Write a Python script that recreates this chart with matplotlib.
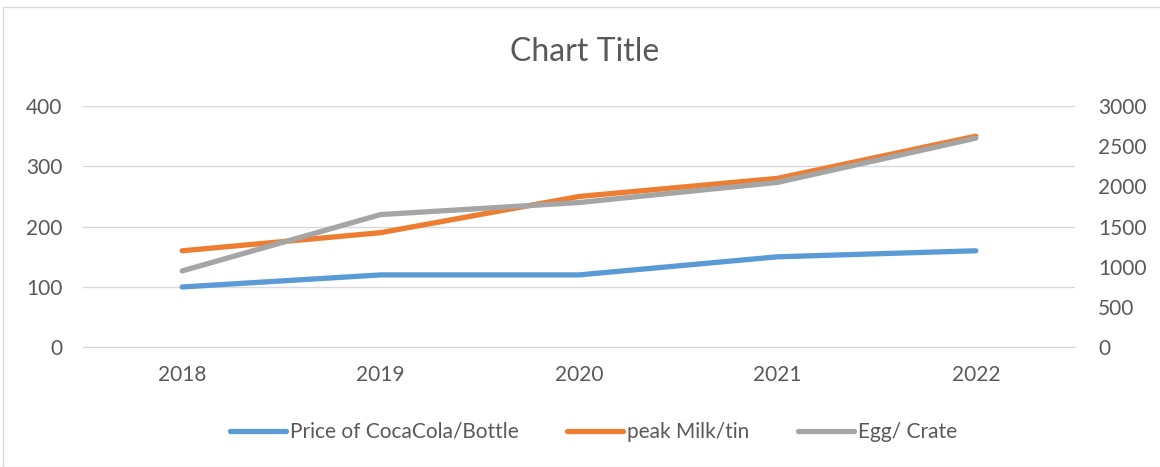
import matplotlib.pyplot as plt
from matplotlib.patches import Rectangle

years = ['2018', '2019', '2020', '2021', '2022']
cocacola = [100, 120, 120, 150, 160]
milk = [160, 190, 250, 280, 350]
egg = [950, 1650, 1800, 2050, 2600]

plt.rcParams['font.family'] = ['Lato', 'DejaVu Sans']
txt = '#595959'

fig = plt.figure(figsize=(11.6, 4.67), dpi=100)
fig.patches.append(Rectangle((3 / 1160, 0), 1.2, 1 - 7 / 467, transform=fig.transFigure,
                             fill=False, edgecolor='#D9D9D9', lw=1))

ax = fig.add_axes([83 / 1160, 1 - 347.3 / 467, 992 / 1160, 241.3 / 467])
ax2 = ax.twinx()

x = range(len(years))
l1, = ax.plot(x, cocacola, color='#5B9BD5', lw=3.8, solid_capstyle='round', label='Price of CocaCola/Bottle')
l2, = ax.plot(x, milk, color='#ED7D31', lw=3.8, solid_capstyle='round', label='peak Milk/tin')
l3, = ax2.plot(x, egg, color='#A5A5A5', lw=3.8, solid_capstyle='round', label='Egg/ Crate')

ax.set_xlim(-0.5, 4.5)
ax.set_ylim(0, 400)
ax.set_yticks([0, 100, 200, 300, 400])
ax2.set_ylim(0, 3000)
ax2.set_yticks(range(0, 3001, 500))
ax.set_xticks(list(x))
ax.set_xticklabels(years)

ax.grid(axis='y', color='#D9D9D9', lw=1)
ax.set_axisbelow(True)
for a in (ax, ax2):
    for s in a.spines.values():
        s.set_visible(False)
ax.spines['bottom'].set_visible(True)
ax.spines['bottom'].set_color('#D9D9D9')
ax.tick_params(axis='both', length=0, labelsize=15, labelcolor=txt)
ax.tick_params(axis='y', pad=15)
ax.tick_params(axis='x', pad=13)
ax2.tick_params(axis='y', length=0, labelsize=15, labelcolor=txt, pad=16.5)

fig.text(0.504, 1 - 52 / 467, 'Chart Title', ha='center', va='center', fontsize=23, color=txt)

fig.legend(handles=[l1, l2, l3], loc='center', bbox_to_anchor=(593.5 / 1160, 1 - 432 / 467), ncol=3,
           frameon=False, fontsize=15, labelcolor=txt, handlelength=2.7, handletextpad=0.2,
           columnspacing=2.3)

fig.savefig('out.png', dpi=100)
